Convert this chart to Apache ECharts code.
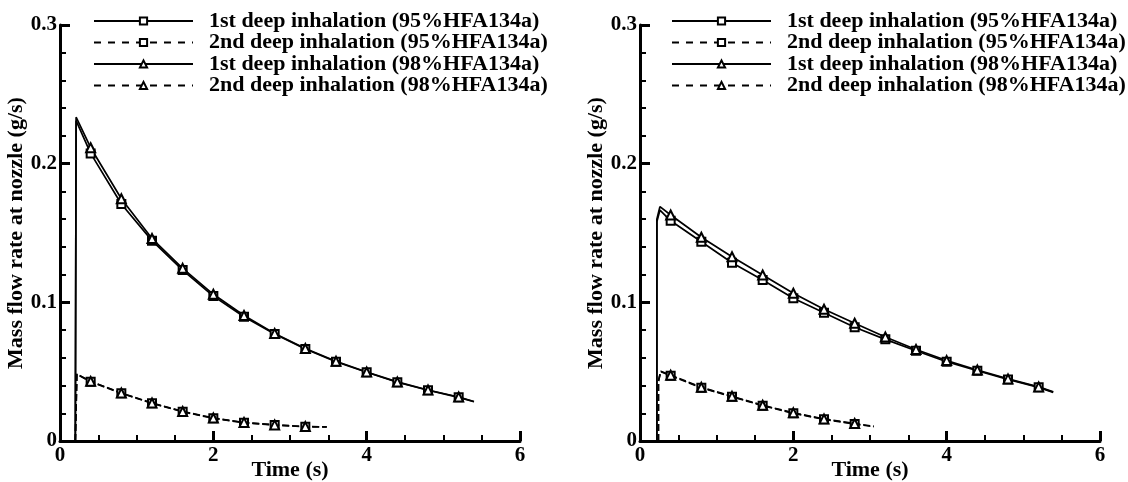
<!DOCTYPE html>
<html>
<head>
<meta charset="utf-8">
<title>Mass flow rate at nozzle</title>
<script src="https://cdn.jsdelivr.net/npm/echarts@6/dist/echarts.min.js"></script>
<style>
  html, body { margin: 0; padding: 0; background: #fff; }
  #chart { width: 1128px; height: 482px; }
</style>
</head>
<body>
<div id="chart"></div>
<script>
// Legend entries, one per inhalation / propellant combination
const SERIES_NAMES = [
  '1st deep inhalation (95%HFA134a)',
  '2nd deep inhalation (95%HFA134a)',
  '1st deep inhalation (98%HFA134a)',
  '2nd deep inhalation (98%HFA134a)'
];

// Axis ticks
const X_TICKS = [0, 2, 4, 6];
const Y_TICKS = [0, 0.1, 0.2, 0.3];

// Sample times (s) that carry a marker on every curve
const MARKER_TIMES = [0.4, 0.8, 1.2, 1.6, 2.0, 2.4, 2.8, 3.2, 3.6, 4.0, 4.4, 4.8, 5.2];

// ---- Left panel ----
const leftFirstTime   = [0.2, 0.21, 0.4, 0.8, 1.2, 1.6, 2.0, 2.4, 2.8, 3.2, 3.6, 4.0, 4.4, 4.8, 5.2, 5.4];
const leftFirst95Flow = [0, 0.2310, 0.2074, 0.1709, 0.1445, 0.1233, 0.1045, 0.0896, 0.0771, 0.0663, 0.0572, 0.0496, 0.0424, 0.0366, 0.0315, 0.0283];
const leftFirst98Flow = [0, 0.2335, 0.2115, 0.1747, 0.1460, 0.1245, 0.1058, 0.0905, 0.0776, 0.0667, 0.0575, 0.0498, 0.0426, 0.0368, 0.0317, 0.0285];

const leftSecondTime   = [0.2, 0.22, 0.4, 0.8, 1.2, 1.6, 2.0, 2.4, 2.8, 3.2, 3.48];
const leftSecond95Flow = [0, 0.0481, 0.0428, 0.0344, 0.0272, 0.0211, 0.0164, 0.0132, 0.0115, 0.0103, 0.0101];
const leftSecond98Flow = [0, 0.0483, 0.0430, 0.0346, 0.0274, 0.0213, 0.0166, 0.0134, 0.0116, 0.0104, 0.0102];

// ---- Right panel ----
const rightFirstTime   = [0.22, 0.22, 0.26, 0.4, 0.8, 1.2, 1.6, 2.0, 2.4, 2.8, 3.2, 3.6, 4.0, 4.4, 4.8, 5.2, 5.39];
const rightFirst95Flow = [0, 0.158, 0.1665, 0.1588, 0.1437, 0.1286, 0.1161, 0.1029, 0.0925, 0.0820, 0.0733, 0.0651, 0.0572, 0.0507, 0.0444, 0.0387, 0.0351];
const rightFirst98Flow = [0, 0.160, 0.1690, 0.1630, 0.1469, 0.1329, 0.1197, 0.1065, 0.0950, 0.0849, 0.0750, 0.0660, 0.0580, 0.0512, 0.0448, 0.0390, 0.0354];

const rightSecondTime   = [0.24, 0.24, 0.27, 0.4, 0.8, 1.2, 1.6, 2.0, 2.4, 2.8, 3.05];
const rightSecond95Flow = [0, 0.043, 0.0500, 0.0471, 0.0384, 0.0319, 0.0255, 0.0200, 0.0156, 0.0123, 0.0103];
const rightSecond98Flow = [0, 0.043, 0.0503, 0.0475, 0.0387, 0.0322, 0.0258, 0.0203, 0.0159, 0.0126, 0.0106];

const FONT = "'Liberation Serif', 'DejaVu Serif', 'Times New Roman', serif";
const INK = '#000';

function points(times, flows) {
  return times.map((t, i) => {
    const item = { value: [t, flows[i]] };
    if (!MARKER_TIMES.includes(t)) item.symbol = 'none';
    return item;
  });
}

const nameStyle = { fontFamily: FONT, fontWeight: 'bold', fontSize: 22, color: INK };
const tickLabelStyle = { fontFamily: FONT, fontWeight: 'bold', fontSize: 21, color: INK };

function xAxis(gridIndex) {
  return {
    type: 'value', gridIndex,
    min: X_TICKS[0], max: X_TICKS[X_TICKS.length - 1], interval: X_TICKS[1] - X_TICKS[0],
    name: 'Time (s)', nameLocation: 'middle', nameGap: 18, nameMoveOverlap: false,
    nameTextStyle: nameStyle,
    axisLine: { show: true, onZero: false, lineStyle: { color: INK, width: 3 } },
    axisTick: { show: true, inside: true, length: 10, lineStyle: { color: INK, width: 3 } },
    minorTick: { show: true, splitNumber: 4, length: 6, lineStyle: { color: INK, width: 2 } },
    splitLine: { show: false },
    axisLabel: Object.assign({ margin: 4 }, tickLabelStyle)
  };
}

function yAxis(gridIndex) {
  return {
    type: 'value', gridIndex,
    min: Y_TICKS[0], max: Y_TICKS[Y_TICKS.length - 1], interval: Y_TICKS[1] - Y_TICKS[0],
    name: 'Mass flow rate at nozzle (g/s)', nameLocation: 'middle', nameGap: 33, nameMoveOverlap: false,
    nameTextStyle: nameStyle,
    axisLine: { show: true, onZero: false, lineStyle: { color: INK, width: 3 } },
    axisTick: { show: true, inside: true, length: 10, lineStyle: { color: INK, width: 3 } },
    minorTick: { show: true, splitNumber: 5, length: 6, lineStyle: { color: INK, width: 2 } },
    splitLine: { show: false },
    axisLabel: Object.assign({
      margin: 3,
      formatter: v => (v === 0 ? '0' : v.toFixed(1))
    }, tickLabelStyle)
  };
}

function curve(nameIdx, axisIdx, times, flows, opts) {
  return {
    type: 'line',
    name: SERIES_NAMES[nameIdx],
    xAxisIndex: axisIdx, yAxisIndex: axisIdx,
    data: points(times, flows),
    symbol: opts.symbol, symbolSize: opts.symbolSize,
    showSymbol: true,
    lineStyle: { color: INK, width: 1.7, type: opts.dashed ? [7, 3] : 'solid' },
    itemStyle: { color: INK, borderColor: INK, borderWidth: 2 },
    emphasis: { disabled: true },
    animation: false
  };
}

function legend(left) {
  return {
    orient: 'vertical', left, top: 5, padding: 5,
    itemWidth: 99, itemHeight: 9, itemGap: -0.5,
    selectedMode: false,
    lineStyle: { width: 2 },
    textStyle: { fontFamily: FONT, fontWeight: 'bold', fontSize: 22, color: INK, padding: [0, 0, 0, 11] },
    data: SERIES_NAMES.map(name => (
      name.startsWith('2nd') ? { name, lineStyle: { type: [7, 7], width: 2 } } : { name }
    ))
  };
}

const SQ = { symbol: 'emptyRect', symbolSize: 8 };
const TR = { symbol: 'emptyTriangle', symbolSize: 9 };

const option = {
  backgroundColor: '#fff',
  animation: false,
  legend: [legend(88), legend(666)],
  grid: [
    { left: 60, top: 25, width: 460, height: 416, outerBoundsMode: 'none', containLabel: false },
    { left: 640, top: 25, width: 460, height: 416, outerBoundsMode: 'none', containLabel: false }
  ],
  xAxis: [xAxis(0), xAxis(1)],
  yAxis: [yAxis(0), yAxis(1)],
  series: [
    curve(0, 0, leftFirstTime, leftFirst95Flow, SQ),
    curve(1, 0, leftSecondTime, leftSecond95Flow, Object.assign({ dashed: true }, SQ)),
    curve(2, 0, leftFirstTime, leftFirst98Flow, TR),
    curve(3, 0, leftSecondTime, leftSecond98Flow, Object.assign({ dashed: true }, TR)),
    curve(0, 1, rightFirstTime, rightFirst95Flow, SQ),
    curve(1, 1, rightSecondTime, rightSecond95Flow, Object.assign({ dashed: true }, SQ)),
    curve(2, 1, rightFirstTime, rightFirst98Flow, TR),
    curve(3, 1, rightSecondTime, rightSecond98Flow, Object.assign({ dashed: true }, TR))
  ]
};

const chart = echarts.init(document.getElementById('chart'), null, { renderer: 'canvas' });
chart.setOption(option);
</script>
</body>
</html>
